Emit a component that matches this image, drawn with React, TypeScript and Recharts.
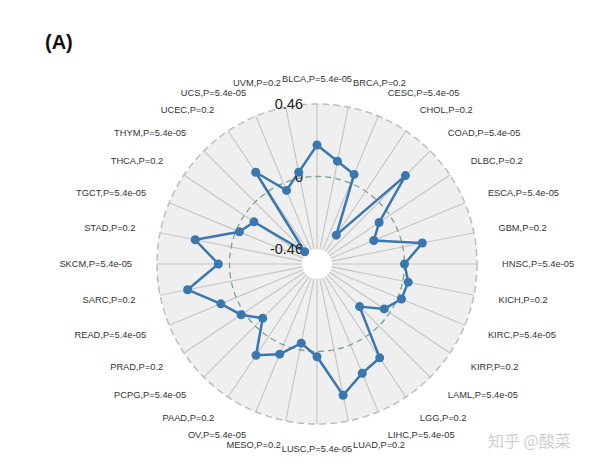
import { RadarChart, Radar, PolarGrid, PolarAngleAxis, PolarRadiusAxis } from 'recharts';

const cancers = [
  'BLCA', 'BRCA', 'CESC', 'CHOL', 'COAD', 'DLBC', 'ESCA', 'GBM',
  'HNSC', 'KICH', 'KIRC', 'KIRP', 'LAML', 'LGG', 'LIHC', 'LUAD',
  'LUSC', 'MESO', 'OV', 'PAAD', 'PCPG', 'PRAD', 'READ', 'SARC',
  'SKCM', 'STAD', 'TGCT', 'THCA', 'THYM', 'UCEC', 'UCS', 'UVM',
];

const pValues = [
  '5.4e-05', '0.2', '5.4e-05', '0.2', '5.4e-05', '0.2', '5.4e-05', '0.2',
  '5.4e-05', '0.2', '5.4e-05', '0.2', '5.4e-05', '0.2', '5.4e-05', '0.2',
  '5.4e-05', '0.2', '5.4e-05', '0.2', '5.4e-05', '0.2', '5.4e-05', '0.2',
  '5.4e-05', '0.2', '5.4e-05', '0.2', '5.4e-05', '0.2', '5.4e-05', '0.2',
];

const correlations = [
  0.2, 0.11, 0.06, -0.335, 0.238, -0.081, -0.165, 0.126,
  0.0, 0.035, 0.025, -0.042, -0.173, 0.161, 0.195, 0.294,
  0.033, -0.043, 0.064, 0.141, -0.068, 0.024, 0.105, 0.282,
  0.071, 0.233, -0.022, -0.074, -0.445, 0.145, -0.05, 0.039,
];

const radiusTicks = [-0.46, 0, 0.46];

const CX = 317;
const CY = 264;
const INNER = 15;
const OUTER = 160;
const LABEL_R = 185;
const LINE = '#3a77ae';

const data = cancers.map((name, i) => ({
  name,
  label: `${name},P=${pValues[i]}`,
  value: correlations[i],
}));

const zeroRadius =
  INNER + ((0 - radiusTicks[0]) / (radiusTicks[2] - radiusTicks[0])) * (OUTER - INNER);

function AngleTick(props: any) {
  const { payload, index } = props;
  const rad = (-payload.coordinate * Math.PI) / 180;
  const x = CX + LABEL_R * Math.cos(rad);
  const y = CY + LABEL_R * Math.sin(rad);
  const c = Math.cos(rad);
  const anchor = Math.abs(c) < 1e-6 ? 'middle' : c > 0 ? 'start' : 'end';
  return (
    <text
      x={x}
      y={y}
      textAnchor={anchor}
      dominantBaseline="central"
      fontSize={9.3}
      fill="#333"
      fontFamily="'Liberation Sans', Arial, sans-serif"
    >
      {data[index]?.label ?? payload.value}
    </text>
  );
}

function RadiusTick(props: any) {
  const { x, y, payload } = props;
  return (
    <text
      x={x - 14}
      y={y}
      textAnchor="end"
      dominantBaseline="central"
      fontSize={14.5}
      fill="#222"
      fontFamily="'Liberation Sans', Arial, sans-serif"
    >
      {payload.value}
    </text>
  );
}

function Dot(props: any) {
  const { cx, cy } = props;
  return <circle cx={cx} cy={cy} r={4.5} fill={LINE} stroke="none" />;
}

export default function App() {
  return (
    <div style={{ position: 'absolute', left: 0, top: 0, width: 600, height: 466, background: '#fff' }}>
      <svg width={600} height={466} style={{ position: 'absolute', left: 0, top: 0 }}>
        <circle cx={CX} cy={CY} r={OUTER} fill="#efefef" />
        <circle cx={CX} cy={CY} r={INNER} fill="#fff" />
        <text x={45} y={49} fontSize={20} fontWeight="bold" fill="#111" fontFamily="'Liberation Sans', Arial, sans-serif">
          (A)
        </text>
        <text x={488} y={447} fontSize={16} fill="#cfcfcf" fontFamily="'Noto Sans CJK SC', sans-serif">
          知乎 @酸菜
        </text>
      </svg>
      <div style={{ position: 'absolute', left: 0, top: 0 }}>
        <RadarChart
          width={600}
          height={466}
          data={data}
          cx={CX}
          cy={CY}
          innerRadius={INNER}
          outerRadius={OUTER}
          startAngle={90}
          endAngle={-270}
        >
          <PolarGrid gridType="circle" polarRadius={[]} stroke="#c6c6c6" strokeWidth={1.2} />
          <PolarGrid
            gridType="circle"
            radialLines={false}
            polarRadius={[OUTER]}
            stroke="#bdbdbd"
            strokeWidth={1.5}
            strokeDasharray="7 4"
          />
          <PolarGrid
            gridType="circle"
            radialLines={false}
            polarRadius={[zeroRadius]}
            stroke="#78a293"
            strokeWidth={1.3}
            strokeDasharray="6 4"
          />
          <PolarAngleAxis dataKey="name" tick={AngleTick} tickLine={false} axisLine={false} />
          <PolarRadiusAxis
            angle={90}
            type="number"
            domain={[radiusTicks[0], radiusTicks[2]]}
            ticks={radiusTicks}
            tick={RadiusTick}
            axisLine={false}
            tickLine={false}
            allowDataOverflow
          />
          <Radar
            dataKey="value"
            stroke={LINE}
            strokeWidth={2.5}
            fill="none"
            fillOpacity={0}
            dot={Dot}
            isAnimationActive={false}
          />
        </RadarChart>
      </div>
    </div>
  );
}
